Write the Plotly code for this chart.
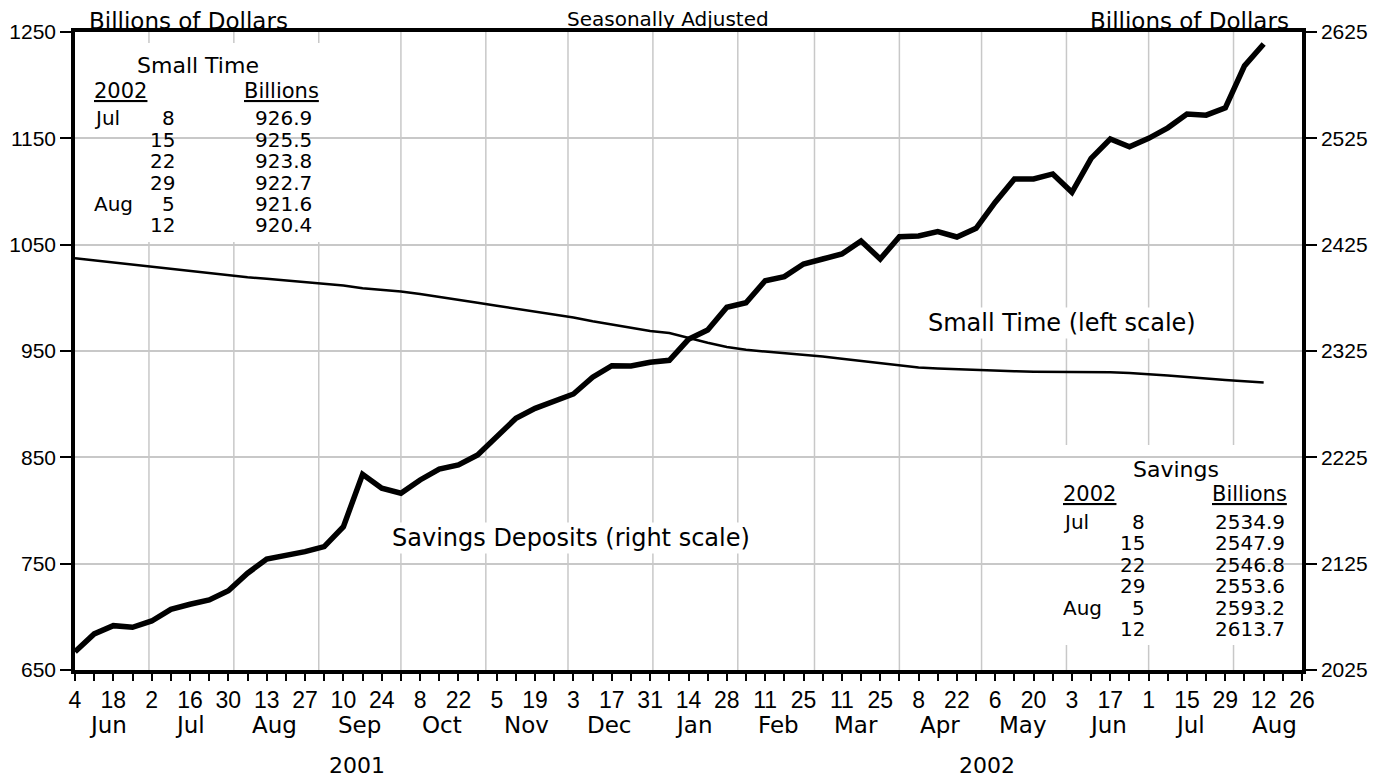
import pandas as pd
import plotly.graph_objects as go


# weekly data, Monday Jun 4 2001 .. Aug 12 2002
WEEK_START = "2001-06-04"

SMALL_TIME = [
    1037.2, 1035.2, 1033.1, 1031.2, 1029.1, 1026.9, 1024.9, 1022.7, 1020.9, 1019.4,
    1017.9, 1016.4, 1014.8, 1013.4, 1011.7, 1009.1, 1007.6, 1006.0, 1003.7, 1001.1,
    998.2, 995.3, 992.5, 989.8, 987.1, 984.4, 981.5, 978.0, 974.7, 971.4,
    968.8, 966.9, 962.0, 957.8, 953.8, 951.1, 949.5, 948.0, 946.4, 944.8,
    942.7, 940.5, 938.4, 936.2, 934.4, 933.6, 932.8, 931.9, 931.3, 930.9,
    930.6, 930.5, 930.4, 930.2, 929.9, 929.2, 928.4, 926.9, 925.5, 923.8,
    922.7, 921.6, 920.4,
]

SAVINGS = [
    2042.2, 2058.9, 2066.7, 2065.2, 2071.1, 2082.1, 2086.8, 2090.9, 2099.6, 2116.0,
    2129.4, 2132.2, 2136.3, 2141.0, 2159.8, 2209.0, 2195.9, 2191.2, 2203.7, 2214.0,
    2217.8, 2227.2, 2244.4, 2261.7, 2271.1, 2278.3, 2284.6, 2300.3, 2311.2, 2310.9,
    2314.4, 2316.3, 2336.0, 2344.8, 2366.1, 2370.4, 2391.1, 2394.9, 2406.8, 2411.5,
    2416.2, 2428.5, 2411.5, 2432.5, 2433.2, 2437.2, 2432.2, 2440.4, 2465.0, 2486.8,
    2486.8, 2491.5, 2474.2, 2506.2, 2524.4, 2517.1, 2525.0, 2534.9, 2547.9, 2546.8,
    2553.6, 2593.2, 2613.7,
]

LEFT_TICKS = [650, 750, 850, 950, 1050, 1150, 1250]
RIGHT_TICKS = [2025, 2125, 2225, 2325, 2425, 2525, 2625]

MONTH_NAMES = ["Jun", "Jul", "Aug", "Sep", "Oct", "Nov", "Dec",
               "Jan", "Feb", "Mar", "Apr", "May", "Jun", "Jul", "Aug"]
YEAR_NAMES = ["2001", "2002"]
YEAR_DATES = ["2001-09-15", "2002-05-03"]

TABLE_MONTHS = ["Jul", "", "", "", "Aug", ""]
TABLE_DAYS = ["8", "15", "22", "29", "5", "12"]
SMALL_TIME_TABLE = ["926.9", "925.5", "923.8", "922.7", "921.6", "920.4"]
SAVINGS_TABLE = ["2534.9", "2547.9", "2546.8", "2553.6", "2593.2", "2613.7"]

TEXT_FONT = "DejaVu Sans ExtraLight, DejaVu Sans, sans-serif"
NUM_FONT = "Liberation Sans Narrow, Liberation Sans, sans-serif"
GRID = "#c8c8c8"

# the page body adds an 8px margin, so lay everything out shifted by it
OFF = 8
# plot area in screen pixels
L, R, T, B = 75, 1302, 32, 670


def px_x(p):
    return (p - L) / (R - L)


def px_y(p):
    return 1 - (p - T) / (B - T)


weeks = pd.date_range(WEEK_START, periods=len(SAVINGS), freq="7D")
day_ticks = pd.date_range(WEEK_START, "2002-08-26", freq="14D")
month_starts = pd.date_range("2001-07-01", "2002-08-01", freq="MS")
month_mid = pd.date_range("2001-06-01", periods=len(MONTH_NAMES), freq="MS") + pd.Timedelta(days=15)

fig = go.Figure()

fig.add_trace(go.Scatter(
    x=weeks, y=SMALL_TIME, mode="lines",
    line=dict(color="black", width=2.5), yaxis="y", showlegend=False
))
fig.add_trace(go.Scatter(
    x=weeks, y=SAVINGS, mode="lines",
    line=dict(color="black", width=5.5), yaxis="y2", showlegend=False
))

shapes = []
for d in month_starts:
    shapes.append(dict(type="line", xref="x", yref="paper", x0=d, x1=d, y0=0, y1=1,
                       line=dict(color=GRID, width=1.5), layer="between"))

# white boxes behind the tables
for x0, x1, y0, y1 in [(77, 333, 43, 242), (1045, 1299, 445, 645)]:
    shapes.append(dict(type="rect", xref="paper", yref="paper",
                       x0=px_x(x0), x1=px_x(x1), y0=px_y(y1), y1=px_y(y0),
                       fillcolor="white", line=dict(width=0), layer="between"))

annotations = []


def add_text(text, x, y, size=21, xanchor="center", font=TEXT_FONT, bg=None, xref="paper", yref="paper"):
    a = dict(text=text, x=x, y=y, xref=xref, yref=yref, showarrow=False,
             xanchor=xanchor, yanchor="middle", font=dict(family=font, size=size, color="black"))
    if bg:
        a["bgcolor"] = bg
    annotations.append(a)


for name, d in zip(MONTH_NAMES, month_mid):
    add_text(name, d, px_y(725), size=23, xref="x")
for name, d in zip(YEAR_NAMES, YEAR_DATES):
    add_text(name, d, px_y(766), size=22, xref="x")

add_text("Seasonally Adjusted", px_x(668), px_y(19), size=20)
add_text("Billions of Dollars", px_x(87), px_y(21), size=23, xanchor="left")
add_text("Billions of Dollars", px_x(1291), px_y(21), size=23, xanchor="right")

add_text("Savings Deposits (right scale)", px_x(571), px_y(538), size=24, bg="white")
add_text("Small Time (left scale)", px_x(1062), px_y(323), size=24, bg="white")

# small time table
add_text("Small Time", px_x(198), px_y(66), size=22)
add_text("<u>2002</u>", px_x(92), px_y(91), size=21, xanchor="left")
add_text("<u>Billions</u>", px_x(321), px_y(91), size=21, xanchor="right")
for i, (m, d, v) in enumerate(zip(TABLE_MONTHS, TABLE_DAYS, SMALL_TIME_TABLE)):
    yy = px_y(118 + 21.5 * i)
    if m:
        add_text(m, px_x(92), yy, size=20, xanchor="left")
    add_text(d, px_x(177), yy, size=20, xanchor="right")
    add_text(v, px_x(314), yy, size=20, xanchor="right")

# savings table
add_text("Savings", px_x(1176), px_y(469), size=22)
add_text("<u>2002</u>", px_x(1061), px_y(494), size=21, xanchor="left")
add_text("<u>Billions</u>", px_x(1289), px_y(494), size=21, xanchor="right")
for i, (m, d, v) in enumerate(zip(TABLE_MONTHS, TABLE_DAYS, SAVINGS_TABLE)):
    yy = px_y(522 + 21.4 * i)
    if m:
        add_text(m, px_x(1061), yy, size=20, xanchor="left")
    add_text(d, px_x(1147), yy, size=20, xanchor="right")
    add_text(v, px_x(1287), yy, size=20, xanchor="right")

fig.update_layout(
    width=1387, height=780,
    margin=dict(l=L - OFF, r=1387 - R + OFF, t=T - OFF, b=780 - B + OFF, autoexpand=False),
    paper_bgcolor="white", plot_bgcolor="white",
    shapes=shapes, annotations=annotations,
    xaxis=dict(
        type="date", range=[WEEK_START, "2002-08-26"], automargin=False,
        tickmode="array", tickvals=day_ticks, ticktext=[str(d.day) for d in day_ticks],
        ticks="outside", ticklen=7, tickwidth=2, tickcolor="black",
        minor=dict(ticks="outside", ticklen=7, tickwidth=2, tickcolor="black",
                   tick0=WEEK_START, dtick=7 * 86400000, showgrid=False),
        showgrid=False, showline=True, linecolor="black", linewidth=3.5, mirror=True,
        tickfont=dict(family=NUM_FONT, size=23, color="black"),
    ),
    yaxis=dict(
        range=[650, 1250], tickvals=LEFT_TICKS, ticks="outside", ticklen=11, tickwidth=1.5,
        tickcolor="black", showgrid=True, gridcolor=GRID, gridwidth=1.5, automargin=False,
        showline=True, linecolor="black", linewidth=3.5, zeroline=False,
        tickfont=dict(family=NUM_FONT, size=21, color="black"),
    ),
    yaxis2=dict(
        range=[2025, 2625], tickvals=RIGHT_TICKS, overlaying="y", side="right",
        ticks="outside", ticklen=11, tickwidth=1.5, tickcolor="black", showgrid=False,
        showline=True, linecolor="black", linewidth=3.5, zeroline=False, automargin=False,
        tickfont=dict(family=NUM_FONT, size=21, color="black"),
    ),
)

fig.write_html("out.html")
